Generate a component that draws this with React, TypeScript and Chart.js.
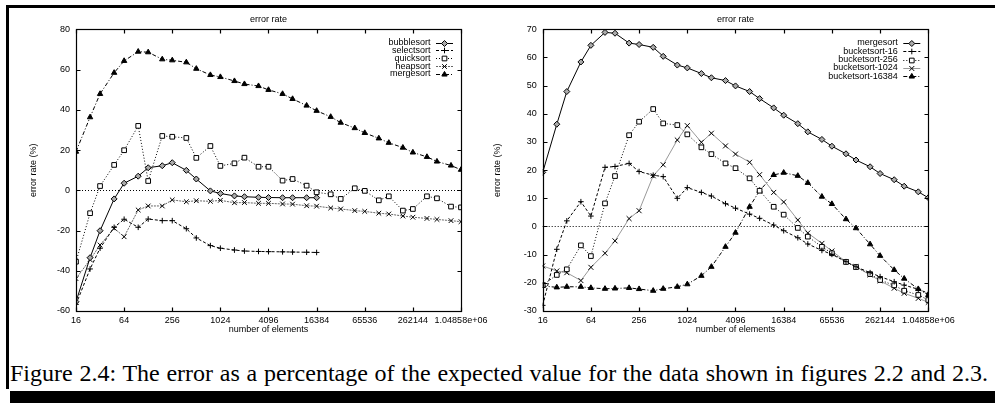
import React, { useEffect, useRef } from 'react';
import { Chart, registerables } from 'chart.js';
import { drawPoint } from 'chart.js/helpers';

Chart.register(...registerables);

const FONT = '"Liberation Sans", Arial, Helvetica, sans-serif';

// number of elements (x values)
const sizes = [16, 24, 32, 48, 64, 96, 128, 192, 256, 384, 512, 768, 1024, 1536, 2048, 3072, 4096, 6144, 8192, 12288, 16384, 24576, 32768, 49152, 65536, 98304, 131072, 196608, 262144, 393216, 524288, 786432, 1048576];

const xTickValues = [16, 64, 256, 1024, 4096, 16384, 65536, 262144, 1048576];
const xTickLabels = ['16', '64', '256', '1024', '4096', '16384', '65536', '262144', '1.04858e+06'];

// left figure (error rate, %)
const bubblesort = [-55.4, -33.5, -20.1, -4.3, 3.5, 7.0, 11.2, 12.2, 13.7, 9.9, 5.6, -0.3, -1.6, -2.8, -3.2, -3.5, -3.6, -3.7, -3.7, -3.7, -3.7];
const selectsort = [-56.7, -39.1, -28.8, -18.4, -14.4, -18.4, -14.3, -15.1, -15.1, -19.1, -23.7, -27.5, -28.8, -29.7, -30.2, -30.4, -30.5, -30.6, -30.7, -30.8, -30.9];
const quicksort = [-35.5, -11.4, 2.1, 12.6, 19.9, 32.0, 4.6, 27.0, 26.6, 26.0, 16.1, 22.0, 12.1, 13.4, 16.2, 11.7, 11.7, 4.8, 5.6, 2.3, -1.0, -2.0, -4.3, 1.0, -0.3, -5.0, -3.0, -10.1, -9.3, -3.0, -4.0, -8.1, -8.5];
const heapsort = [-43.9, -34.5, -27.2, -18.9, -23.1, -9.8, -7.8, -7.8, -4.8, -5.7, -5.2, -5.5, -5.0, -6.2, -6.1, -6.5, -6.5, -6.8, -6.9, -7.7, -7.9, -8.8, -9.3, -10.1, -10.5, -11.4, -11.8, -12.8, -13.4, -14.0, -14.5, -15.1, -15.6];
const mergesort = [19.2, 36.3, 47.9, 58.4, 64.3, 68.9, 68.6, 65.1, 64.6, 63.6, 60.4, 57.3, 56.3, 54.3, 52.8, 51.8, 49.9, 47.9, 45.4, 42.1, 39.5, 36.5, 33.6, 30.9, 28.5, 25.8, 23.6, 21.2, 18.8, 16.6, 14.3, 12.3, 10.2];

// right figure (error rate, %)
const bucketsort16 = [-28.0, -8.1, 2.0, 8.8, 3.7, 21.0, 21.3, 22.4, 19.5, 18.2, 17.7, 10.0, 13.8, 12.1, 10.8, 8.1, 6.5, 4.4, 2.9, 0.5, -1.5, -4.0, -6.2, -8.5, -9.9, -12.5, -14.3, -16.4, -17.8, -19.6, -20.8, -22.3, -23.7];
const bucketsort256 = [-20.8, -17.2, -15.2, -6.7, -10.5, 8.2, 17.9, 32.4, 37.2, 41.7, 36.6, 36.0, 32.7, 28.1, 25.7, 22.4, 20.7, 17.1, 12.7, 7.0, 4.2, -0.5, -3.6, -7.2, -9.5, -12.6, -14.4, -16.9, -19.0, -20.9, -22.8, -24.3, -26.1];
const bucketsort1024 = [-14.0, -15.8, -16.4, -19.2, -14.5, -9.5, -5.1, 2.8, 5.6, 18.0, 21.9, 30.7, 35.8, 29.9, 33.1, 28.6, 25.7, 22.8, 18.4, 12.1, 8.7, 2.3, -2.3, -6.0, -8.7, -12.5, -14.3, -17.2, -19.3, -21.9, -23.7, -25.5, -26.9];
const bucketsort16384 = [-21.1, -21.6, -21.4, -21.4, -21.8, -22.1, -22.0, -21.8, -22.2, -22.8, -22.1, -21.4, -20.5, -17.5, -14.3, -7.2, -2.2, 7.0, 12.7, 18.3, 19.1, 18.0, 15.5, 10.6, 8.0, 2.6, -0.6, -6.3, -10.4, -15.4, -18.5, -22.2, -24.3];

const toPoints = (vals: number[]) => vals.map((y, i) => ({ x: sizes[i], y }));

type Style = { dash: number[]; color: string; point: string; radius: number; fill: string };
const SOLID: Style = { dash: [], color: '#000', point: 'rectRot', radius: 3, fill: '#aaa' };
const DASHED: Style = { dash: [3, 2], color: '#000', point: 'cross', radius: 2.8, fill: '#000' };
const DOTTED: Style = { dash: [1, 2], color: '#000', point: 'rect', radius: 3.3, fill: '#fff' };
const GREY: Style = { dash: [2, 1], color: '#666', point: 'crossRot', radius: 3.3, fill: '#000' };
const GREYSOLID: Style = { dash: [], color: '#999', point: 'crossRot', radius: 3.5, fill: '#000' };
const DASHDOT: Style = { dash: [4, 2, 1, 2], color: '#000', point: 'triangle', radius: 3.1, fill: '#000' };

const ds = (label: string, vals: number[], s: Style) => ({
  label,
  data: toPoints(vals),
  borderColor: s.color,
  borderWidth: 1,
  borderDash: s.dash,
  pointStyle: s.point,
  pointRadius: s.radius,
  pointBorderWidth: 1,
  pointBorderColor: '#000',
  pointBackgroundColor: s.fill,
  backgroundColor: s.fill,
  fill: false,
  tension: 0,
});

const gnuplotDecor = {
  id: 'gnuplotDecor',
  beforeDatasetsDraw(chart: any) {
    const { ctx, chartArea: a, scales } = chart;
    const y0 = Math.round(scales.y.getPixelForValue(0)) + 0.5;
    ctx.save();
    ctx.strokeStyle = '#000';
    ctx.lineWidth = 1;
    ctx.setLineDash([1, 2]);
    ctx.beginPath();
    ctx.moveTo(a.left, y0);
    ctx.lineTo(a.right, y0);
    ctx.stroke();
    ctx.restore();
  },
  afterDatasetsDraw(chart: any, _args: any, opts: any) {
    const { ctx, chartArea: a, scales } = chart;
    const L = Math.round(a.left) + 0.5, R = Math.round(a.right) + 0.5;
    const T = Math.round(a.top) + 0.5, B = Math.round(a.bottom) + 0.5;
    ctx.save();
    ctx.strokeStyle = '#000';
    ctx.lineWidth = 1.2;
    ctx.setLineDash([]);
    ctx.strokeRect(L, T, R - L, B - T);
    const tl = 4;
    ctx.beginPath();
    scales.x.ticks.forEach((t: any) => {
      const px = Math.round(scales.x.getPixelForValue(t.value)) + 0.5;
      ctx.moveTo(px, B); ctx.lineTo(px, B - tl);
      ctx.moveTo(px, T); ctx.lineTo(px, T + tl);
    });
    scales.y.ticks.forEach((t: any) => {
      const py = Math.round(scales.y.getPixelForValue(t.value)) + 0.5;
      ctx.moveTo(L, py); ctx.lineTo(L + tl, py);
      ctx.moveTo(R, py); ctx.lineTo(R - tl, py);
    });
    ctx.stroke();

    // gnuplot-style key: text, then line sample with marker
    ctx.lineWidth = 1;
    chart.data.datasets.forEach((d: any, i: number) => {
      const cy = a.top + opts.legendTop + i * opts.rowHeight;
      const sx2 = a.right - 8;
      const sx1 = sx2 - 17;
      ctx.font = '9px ' + FONT;
      ctx.textAlign = 'right';
      ctx.textBaseline = 'middle';
      ctx.fillStyle = '#000';
      ctx.fillText(d.label, sx1 - 5.5, cy);
      const ly = Math.round(cy) + 0.5;
      ctx.strokeStyle = d.borderColor;
      ctx.setLineDash(d.borderDash || []);
      ctx.beginPath();
      ctx.moveTo(sx1, ly);
      ctx.lineTo(sx2, ly);
      ctx.stroke();
      ctx.setLineDash([]);
      ctx.strokeStyle = '#000';
      ctx.fillStyle = d.pointBackgroundColor;
      drawPoint(ctx, { pointStyle: d.pointStyle, radius: d.pointRadius, rotation: 0, borderWidth: 1 } as any, (sx1 + sx2) / 2, ly);
    });
    ctx.restore();
  },
};

function makeConfig(datasets: any[], yMin: number, yMax: number, yStep: number, yWidth: number, yTitlePad: number, padRight: number, rowHeight: number) {
  return {
    type: 'line' as const,
    data: { datasets },
    options: {
      animation: false as const,
      responsive: false,
      devicePixelRatio: 1,
      layout: { padding: { left: 0, right: padRight, top: 0, bottom: 0 } },
      plugins: {
        legend: { display: false },
        tooltip: { enabled: false },
        title: {
          display: true,
          text: 'error rate',
          fullSize: false,
          color: '#000',
          font: { family: FONT, size: 9, weight: 'normal' as const },
          padding: { top: 14.6, bottom: 3.9 },
        },
        gnuplotDecor: { legendTop: 13.4, rowHeight },
      },
      scales: {
        x: {
          type: 'logarithmic' as const,
          min: sizes[0],
          max: sizes[sizes.length - 1],
          afterBuildTicks: (s: any) => {
            s.ticks = xTickValues.map((v) => ({ value: v }));
          },
          afterFit: (s: any) => {
            s.height = 29;
          },
          ticks: {
            autoSkip: false,
            maxRotation: 0,
            padding: 4,
            color: '#000',
            font: { family: FONT, size: 9 },
            callback: (_v: any, i: number) => xTickLabels[i],
          },
          grid: { display: false, drawTicks: false },
          border: { display: false },
          title: {
            display: true,
            text: 'number of elements',
            color: '#000',
            font: { family: FONT, size: 9 },
            padding: { top: 0, bottom: 5.1 },
          },
        },
        y: {
          type: 'linear' as const,
          min: yMin,
          max: yMax,
          afterFit: (s: any) => {
            s.width = yWidth;
          },
          ticks: {
            stepSize: yStep,
            padding: 6,
            color: '#000',
            font: { family: FONT, size: 9 },
          },
          grid: { display: false, drawTicks: false },
          border: { display: false },
          title: {
            display: true,
            text: 'error rate (%)',
            color: '#000',
            font: { family: FONT, size: 9 },
            padding: { top: yTitlePad, bottom: 0 },
          },
        },
      },
    },
    plugins: [gnuplotDecor],
  };
}

export default function App() {
  const leftRef = useRef<HTMLCanvasElement>(null);
  const rightRef = useRef<HTMLCanvasElement>(null);

  useEffect(() => {
    const left = new Chart(
      leftRef.current as HTMLCanvasElement,
      makeConfig(
        [
          ds('bubblesort', bubblesort, SOLID),
          ds('selectsort', selectsort, DASHED),
          ds('quicksort', quicksort, DOTTED),
          ds('heapsort', heapsort, GREY),
          ds('mergesort', mergesort, DASHDOT),
        ],
        -60, 80, 20, 76, 28.1, 36, 7.8
      ) as any
    );
    const right = new Chart(
      rightRef.current as HTMLCanvasElement,
      makeConfig(
        [
          ds('mergesort', mergesort, SOLID),
          ds('bucketsort-16', bucketsort16, DASHED),
          ds('bucketsort-256', bucketsort256, DOTTED),
          ds('bucketsort-1024', bucketsort1024, GREYSOLID),
          ds('bucketsort-16384', bucketsort16384, DASHDOT),
        ],
        -30, 70, 10, 72.7, 22.6, 66.7, 8.4
      ) as any
    );
    return () => {
      left.destroy();
      right.destroy();
    };
  }, []);

  return (
    <div style={{ position: 'absolute', left: 0, top: 0, width: 995, height: 403, background: '#fff', overflow: 'hidden' }}>
      <canvas ref={leftRef} width={497} height={340} style={{ position: 'absolute', left: 0, top: 0 }} />
      <canvas ref={rightRef} width={525} height={340} style={{ position: 'absolute', left: 470, top: 0 }} />
      <div style={{ position: 'absolute', left: 6, top: 5, width: 989, height: 2.5, background: '#000' }} />
      <div style={{ position: 'absolute', left: 6, top: 5, width: 2.5, height: 384, background: '#000' }} />
      <div style={{ position: 'absolute', left: 10, top: 391, width: 985, height: 12, background: '#000' }} />
      <div
        style={{
          position: 'absolute',
          left: 10,
          top: 361,
          width: 978,
          fontFamily: '"Liberation Serif", "Times New Roman", serif',
          fontSize: 24,
          lineHeight: 1,
          whiteSpace: 'nowrap',
          textAlign: 'justify',
          textAlignLast: 'justify',
          color: '#000',
        } as any}
      >
        Figure 2.4: The error as a percentage of the expected value for the data shown in figures 2.2 and 2.3.
      </div>
    </div>
  );
}
